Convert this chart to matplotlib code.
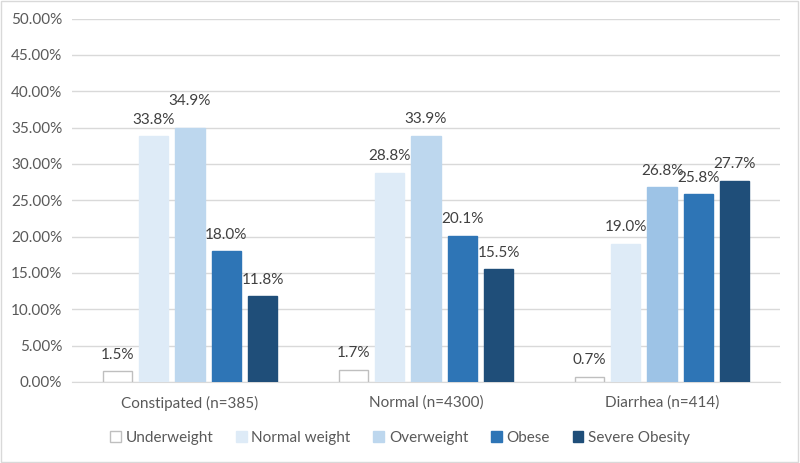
import numpy as np
import matplotlib.pyplot as plt
from matplotlib.ticker import FuncFormatter

# data
groups = ["Constipated (n=385)", "Normal (n=4300)", "Diarrhea (n=414)"]
series = ["Underweight", "Normal weight", "Overweight", "Obese", "Severe Obesity"]
underweight = [1.5, 1.7, 0.7]
normal_weight = [33.8, 28.8, 19.0]
overweight = [34.9, 33.9, 26.8]
obese = [18.0, 20.1, 25.8]
severe = [11.8, 15.5, 27.7]
values = [underweight, normal_weight, overweight, obese, severe]

face = ["white", "#DEEBF7", "#BDD7EE", "#2E75B6", "#1F4E79"]
edge = ["#BFBFBF", "#DEEBF7", "#BDD7EE", "#2E75B6", "#1F4E79"]
# the Diarrhea overweight bar is a touch darker in the original
ow_colors = ["#BDD7EE", "#BDD7EE", "#9DC3E6"]

plt.rcParams['font.family'] = ['Lato', 'DejaVu Sans']
txt = "#595959"

fig = plt.figure(figsize=(8, 4.63), dpi=100)
ax = fig.add_axes([0.09, 0.175, 0.885, 0.785])

x = np.arange(len(groups))
step = 0.154
bw = 0.123
for i, (name, vals) in enumerate(zip(series, values)):
    pos = x + (i - 2) * step
    fc = ow_colors if i == 2 else face[i]
    ec = ow_colors if i == 2 else edge[i]
    ax.bar(pos, vals, width=bw, color=fc, edgecolor=ec,
           linewidth=1.0, label=name, zorder=3)
    for j, (p, v) in enumerate(zip(pos, vals)):
        off = 1.3
        if i == 2 and j == 0:
            off = 2.8  # lifted in the original so it clears 33.8%
        ax.text(p, v + off, f"{v:.1f}%", ha="center", va="bottom",
                fontsize=11, color="#404040", zorder=4)

ax.set_xlim(-0.5, 2.5)
ax.set_ylim(0, 50)
ax.set_yticks(np.arange(0, 51, 5))
ax.yaxis.set_major_formatter(FuncFormatter(lambda v, _: f"{v:.2f}%"))
ax.set_xticks(x)
ax.set_xticklabels(groups)
ax.tick_params(axis="both", length=0, labelsize=11, colors=txt)
ax.tick_params(axis="x", pad=10)
ax.tick_params(axis="y", pad=7)
ax.grid(axis="y", color="#D9D9D9", linewidth=1, zorder=0)
for s in ["top", "right", "left"]:
    ax.spines[s].set_visible(False)
ax.spines["bottom"].set_color("#D9D9D9")

leg = fig.legend(loc="center", bbox_to_anchor=(0.5, 0.055), ncol=5,
                 frameon=False, fontsize=11, handlelength=0.7,
                 handleheight=0.7, handletextpad=0.3, columnspacing=1.5)
for t in leg.get_texts():
    t.set_color(txt)

fig.patches.append(plt.Rectangle((0.001, 0.002), 0.997, 0.996,
                                 transform=fig.transFigure, fill=False,
                                 edgecolor="#D9D9D9", linewidth=1))

fig.savefig("out.png", dpi=100)
